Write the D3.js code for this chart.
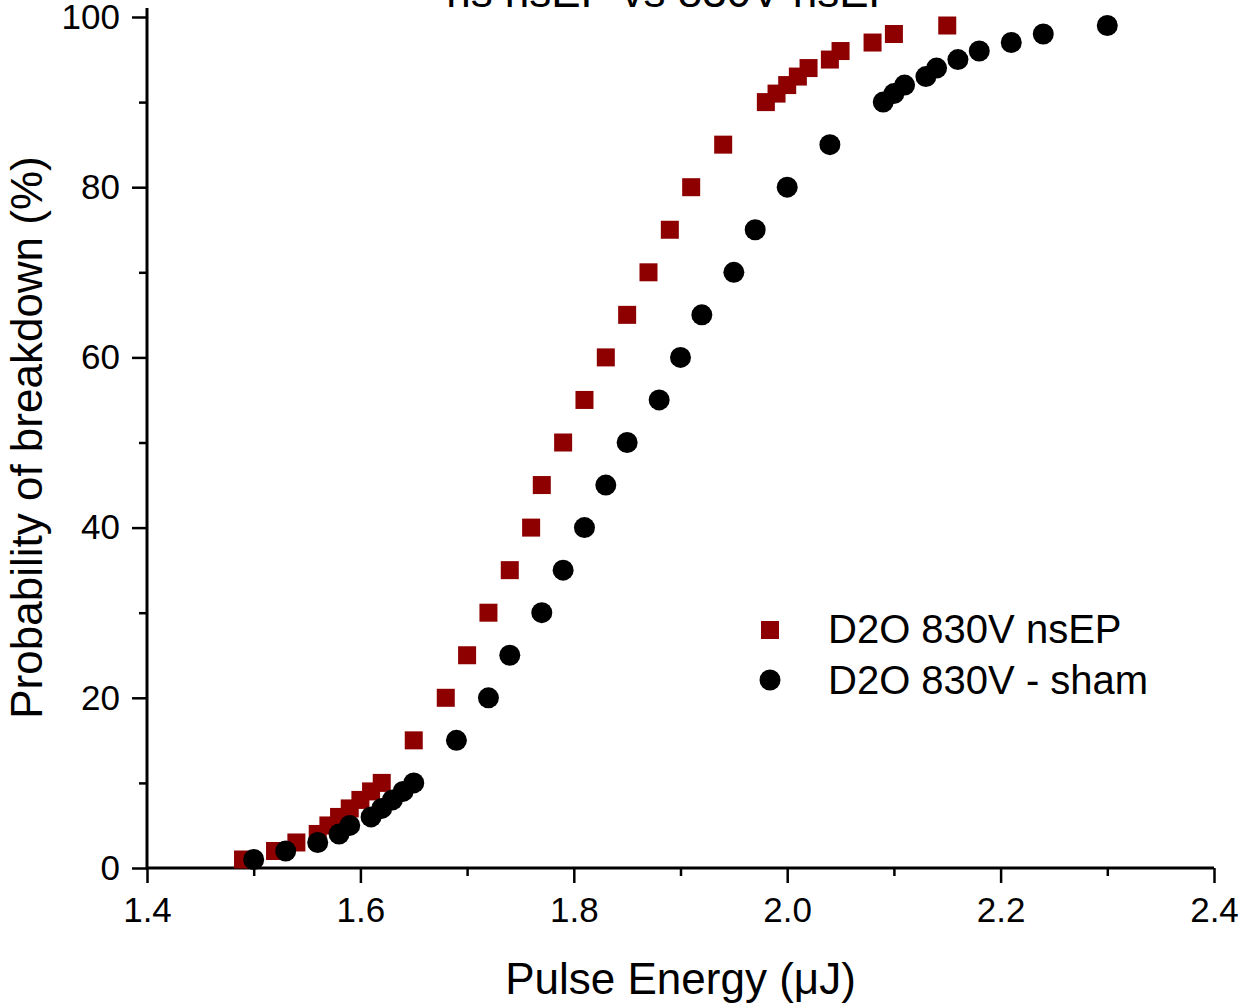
<!DOCTYPE html>
<html>
<head>
<meta charset="utf-8">
<script src="https://cdn.jsdelivr.net/npm/d3@7"></script>
<style>
  html, body { margin: 0; padding: 0; background: #fff; }
  svg { display: block; font-family: "Liberation Sans", Arial, sans-serif; }
</style>
</head>
<body>
<svg id="chart" width="1243" height="1004"></svg>
<script>
// Breakdown probability vs pulse energy
const probLevels = [1,2,3,4,5,6,7,8,9,10,15,20,25,30,35,40,45,50,55,60,65,70,75,80,85,90,91,92,93,94,95,96,97,98,99];
const nsepEnergy = [1.49,1.52,1.54,1.56,1.57,1.58,1.59,1.60,1.61,1.62,1.65,1.68,1.70,1.72,1.74,1.76,1.77,1.79,1.81,1.83,1.85,1.87,1.89,1.91,1.94,1.98,1.99,2.00,2.01,2.02,2.04,2.05,2.08,2.10,2.15];
const shamEnergy = [1.50,1.53,1.56,1.58,1.59,1.61,1.62,1.63,1.64,1.65,1.69,1.72,1.74,1.77,1.79,1.81,1.83,1.85,1.88,1.90,1.92,1.95,1.97,2.00,2.04,2.09,2.10,2.11,2.13,2.14,2.16,2.18,2.21,2.24,2.30];
const seriesNames = ["D2O 830V nsEP", "D2O 830V - sham"];
const xMajorTicks = [1.4,1.6,1.8,2.0,2.2,2.4];
const xMinorTicks = [1.5,1.7,1.9,2.1,2.3];
const yMajorTicks = [0,20,40,60,80,100];
const yMinorTicks = [10,30,50,70,90];
const titleText = "ns nsEP  vs 830V nsEP";

const svg = d3.select("#chart");
const x = d3.scaleLinear().domain([1.4, 2.4]).range([147, 1214]);
const y = d3.scaleLinear().domain([0, 100]).range([868, 17]);

const RED = "#8e0000";

// title (clipped by top edge)
svg.append("text")
  .attr("x", 672).attr("y", 7)
  .attr("text-anchor", "middle")
  .attr("font-size", 44)
  .text(titleText);

// axes
const xAxis = svg.append("g").attr("transform", `translate(0,${y(0)})`)
  .call(d3.axisBottom(x).tickValues(xMajorTicks).tickFormat(d3.format(".1f")).tickSize(15).tickPadding(14));
xAxis.selectAll(".tick text").attr("font-size", 35).attr("fill", "#000");
const xMinor = svg.append("g").attr("transform", `translate(0,${y(0)})`)
  .call(d3.axisBottom(x).tickValues(xMinorTicks).tickFormat("").tickSize(8));

const yAxis = svg.append("g").attr("transform", `translate(${x(1.4)},0)`)
  .call(d3.axisLeft(y).tickValues(yMajorTicks).tickSize(15).tickPadding(12));
yAxis.selectAll(".tick text").attr("font-size", 35).attr("fill", "#000");
const yMinor = svg.append("g").attr("transform", `translate(${x(1.4)},0)`)
  .call(d3.axisLeft(y).tickValues(yMinorTicks).tickFormat("").tickSize(8));

[xAxis, xMinor, yAxis, yMinor].forEach(g => {
  g.select(".domain").remove();
  g.selectAll(".tick line").attr("stroke", "#000").attr("stroke-width", 2.5);
  g.attr("font-family", null);
});

svg.append("line").attr("x1", x(1.4)).attr("x2", x(2.4)).attr("y1", y(0)).attr("y2", y(0))
  .attr("stroke", "#000").attr("stroke-width", 3);
svg.append("line").attr("x1", x(1.4)).attr("x2", x(1.4)).attr("y1", y(0) + 1.5).attr("y2", 8)
  .attr("stroke", "#000").attr("stroke-width", 3);

// axis titles
svg.append("text")
  .attr("x", (x(1.4) + x(2.4)) / 2 - 0).attr("y", 994)
  .attr("text-anchor", "middle").attr("font-size", 44)
  .text("Pulse Energy (\u03bcJ)");
svg.append("text")
  .attr("transform", `translate(42,${(153 + 722) / 2}) rotate(-90)`)
  .attr("text-anchor", "middle").attr("font-size", 44)
  .text("Probability of breakdown (%)");

// data markers
const SQ = 18;
svg.append("g").selectAll("rect")
  .data(nsepEnergy.map((e, i) => [e, probLevels[i]]))
  .join("rect")
  .attr("x", d => x(d[0]) - SQ / 2).attr("y", d => y(d[1]) - SQ / 2)
  .attr("width", SQ).attr("height", SQ).attr("fill", RED);

svg.append("g").selectAll("circle")
  .data(shamEnergy.map((e, i) => [e, probLevels[i]]))
  .join("circle")
  .attr("cx", d => x(d[0])).attr("cy", d => y(d[1]))
  .attr("r", 10.5).attr("fill", "#000");

// legend
const leg = svg.append("g");
leg.append("rect").attr("x", 770 - SQ / 2).attr("y", 630 - SQ / 2).attr("width", SQ).attr("height", SQ).attr("fill", RED);
leg.append("circle").attr("cx", 770).attr("cy", 680).attr("r", 10.5).attr("fill", "#000");
leg.selectAll("text").data(seriesNames).join("text")
  .attr("x", 828).attr("y", (d, i) => 643 + i * 51)
  .attr("font-size", 40)
  .text(d => d);
</script>
</body>
</html>
